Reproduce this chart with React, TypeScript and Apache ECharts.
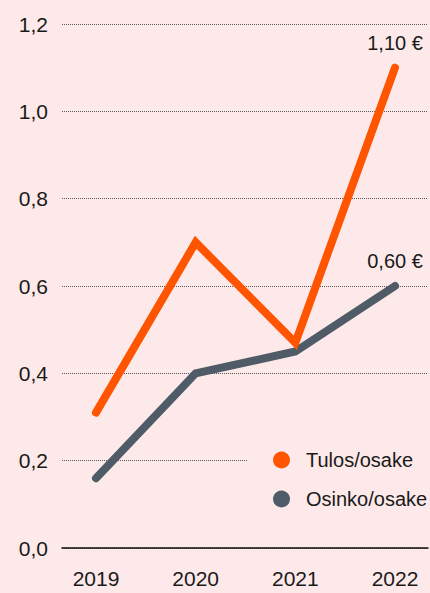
import React, { useEffect, useRef } from "react";
import * as echarts from "echarts";

const years = [2019, 2020, 2021, 2022];
const tulos = [0.31, 0.7, 0.47, 1.1];
const osinko = [0.16, 0.4, 0.45, 0.6];
const seriesNames = ["Tulos/osake", "Osinko/osake"];
const yTicks = [0, 0.2, 0.4, 0.6, 0.8, 1.0, 1.2];

const FONT = "'Liberation Sans', Arial, sans-serif";
const BG = "#fde9e9";
const ORANGE = "#ff5500";
const GRAY = "#4f5c68";
const TEXT = "#1a1a1a";

const fmtEur = (v: number) => v.toFixed(2).replace(".", ",") + " €";

function buildData(vals: number[]) {
  return vals.map((v, i) => {
    const item: any = { value: [years[i], v] };
    if (i === vals.length - 1) {
      item.label = {
        show: true,
        position: "top",
        distance: 15,
        formatter: () => fmtEur(v),
        fontFamily: FONT,
        fontSize: 20,
        color: TEXT,
      };
    }
    return item;
  });
}

export default function App() {
  const ref = useRef<HTMLDivElement>(null);
  useEffect(() => {
    document.body.style.margin = "0";
    const chart = echarts.init(ref.current!, null, { renderer: "svg" });
    chart.setOption({
      animation: false,
      backgroundColor: BG,
      textStyle: { fontFamily: FONT },
      grid: { left: 62, right: 2, top: 24, bottom: 45, containLabel: false },
      xAxis: {
        type: "value",
        min: 2018.659,
        max: 2022.331,
        axisLine: { show: true, lineStyle: { color: "#111", width: 1.5 } },
        axisTick: { show: false },
        splitLine: { show: false },
        axisLabel: {
          customValues: years,
          formatter: (v: number) => String(v),
          fontFamily: FONT,
          fontSize: 21,
          color: TEXT,
          margin: 20,
        },
      },
      yAxis: {
        type: "value",
        min: 0,
        max: 1.2,
        interval: 0.2,
        axisLine: { show: false },
        axisTick: { show: false },
        splitLine: { show: true, lineStyle: { type: "dotted", color: "#555", width: 1 } },
        axisLabel: {
          customValues: yTicks,
          formatter: (v: number) => v.toFixed(1).replace(".", ","),
          fontFamily: FONT,
          fontSize: 21,
          color: TEXT,
          margin: 14,
        },
      },
      legend: {
        orient: "vertical",
        left: 248,
        top: 441,
        padding: [5, 5, 5, 25],
        backgroundColor: BG,
        icon: "circle",
        itemWidth: 17,
        itemHeight: 17,
        itemGap: 11,
        data: seriesNames,
        textStyle: {
          fontFamily: FONT,
          fontSize: 20,
          color: TEXT,
          lineHeight: 28,
          padding: [0, 0, 0, 11],
        },
      },
      series: [
        {
          name: seriesNames[0],
          type: "line",
          data: buildData(tulos),
          symbol: "circle",
          symbolSize: 0,
          showSymbol: true,
          color: ORANGE,
          lineStyle: { width: 8, color: ORANGE, cap: "round", join: "miter" },
          z: 3,
        },
        {
          name: seriesNames[1],
          type: "line",
          data: buildData(osinko),
          symbol: "circle",
          symbolSize: 0,
          showSymbol: true,
          color: GRAY,
          lineStyle: { width: 8, color: GRAY, cap: "round", join: "miter" },
          z: 2,
        },
      ],
    });
    return () => chart.dispose();
  }, []);
  return <div ref={ref} style={{ width: 430, height: 593 }} />;
}
